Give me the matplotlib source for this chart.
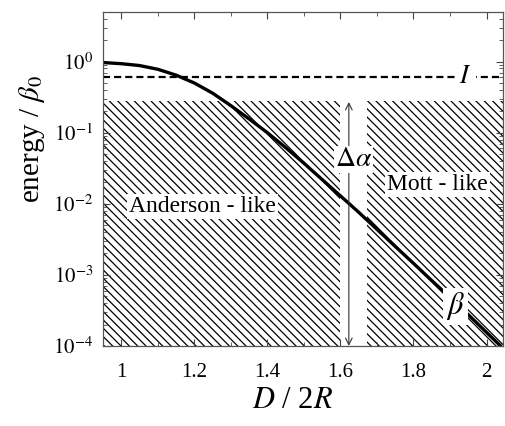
import numpy as np
import matplotlib
matplotlib.use("Agg")
import matplotlib.pyplot as plt
from matplotlib.ticker import MultipleLocator, FixedLocator, LogLocator, NullFormatter

plt.rcParams['font.family'] = ['Liberation Serif', 'DejaVu Serif']
plt.rcParams['mathtext.fontset'] = 'stix'
plt.rcParams['hatch.linewidth'] = 0.9

# beta curve
beta_x = [0.95, 1.0, 1.05, 1.1, 1.15, 1.2, 1.25, 1.3, 1.35, 1.4, 1.45, 1.5,
          1.55, 1.6, 1.65, 1.7, 1.75, 1.8, 1.85, 1.9, 1.95, 2.0, 2.04]
beta_y = [0.97, 0.935, 0.88, 0.78, 0.645, 0.50, 0.36, 0.24, 0.156,
          0.100, 0.0617, 0.0372, 0.0219, 0.0129, 0.00759, 0.00437, 0.00251,
          0.00145, 8.3e-4, 4.8e-4, 2.75e-4, 1.55e-4, 9.8e-5]

# ionisation level I
I_level = 0.61

# hatched regions (x range, top)
anderson_x = [0.95, 1.598]
mott_x = [1.672, 2.05]
region_top = 0.28

# delta alpha arrow
arrow_x = 1.623
arrow_y = [1e-4, 0.27]

fig = plt.figure(figsize=(5.05, 4.26), dpi=100)
ax = fig.add_axes([0.204, 0.188, 0.792, 0.784])

ax.set_yscale('log')
ax.set_xlim(0.95, 2.045)
ax.set_ylim(1e-4, 5)

# hatched areas
ax.fill_between(anderson_x, 1e-5, region_top, facecolor='none',
                edgecolor='black', hatch='\\\\\\\\', linewidth=0)
ax.fill_between(mott_x, 1e-5, region_top, facecolor='none',
                edgecolor='black', hatch='\\\\\\\\', linewidth=0)

# I line
ax.axhline(I_level, color='black', lw=1.6, ls=(0, (3.2, 1.8)))

# beta curve
ax.plot(beta_x, beta_y, color='black', lw=2.4, solid_capstyle='butt')

# delta alpha arrow
ax.annotate('', xy=(arrow_x, arrow_y[1]), xytext=(arrow_x, arrow_y[0]),
            arrowprops=dict(arrowstyle='<->', lw=0.8, color='#333333',
                            shrinkA=0, shrinkB=0, mutation_scale=12))

box = dict(facecolor='white', edgecolor='none', pad=1.5)
ax.text(1.222, 0.0092, 'Anderson - like', fontsize=17, ha='center',
        va='center', bbox=box)
ax.text(1.865, 0.0185, 'Mott - like', fontsize=17, ha='center',
        va='center', bbox=box)
ax.text(1.636, 0.042, r'$\Delta\alpha$', fontsize=20, ha='center',
        va='center', bbox=dict(facecolor='white', edgecolor='none', pad=0.5))
ax.text(1.942, I_level, r'$I$', fontsize=19, ha='center', va='center',
        bbox=dict(facecolor='white', edgecolor='none', pad=3))
ax.text(1.915, 3.6e-4, r'$\beta$', fontsize=22, ha='center', va='center',
        bbox=dict(facecolor='white', edgecolor='none', pad=2))

# ticks
ax.xaxis.set_major_locator(FixedLocator([1.0, 1.2, 1.4, 1.6, 1.8, 2.0]))
ax.xaxis.set_minor_locator(MultipleLocator(0.1))
ax.set_xticklabels(['1', '1.2', '1.4', '1.6', '1.8', '2'])
ax.yaxis.set_major_locator(FixedLocator([1e-4, 1e-3, 1e-2, 1e-1, 1e0]))
ax.set_yticklabels([r'$10^{-4}$', r'$10^{-3}$', r'$10^{-2}$',
                    r'$10^{-1}$', r'$10^{0}$'])
ax.yaxis.set_minor_locator(LogLocator(base=10, subs=np.arange(2, 10)))
ax.yaxis.set_minor_formatter(NullFormatter())
ax.tick_params(which='both', direction='in', top=True, right=True,
               labelsize=15, color='#444444')
ax.tick_params(which='major', length=5, pad=7)
ax.tick_params(axis='x', which='major', pad=12)
ax.tick_params(which='minor', length=3)

for s in ax.spines.values():
    s.set_color('#555555')
    s.set_linewidth(0.9)

fig.text(0.064, 0.674, r'energy / $\beta_0$', fontsize=21, rotation=90,
         ha='center', va='center')
fig.text(0.58, 0.061, r'$D$ / 2$R$', fontsize=22, ha='center', va='center')

fig.savefig('out.png', dpi=100)
